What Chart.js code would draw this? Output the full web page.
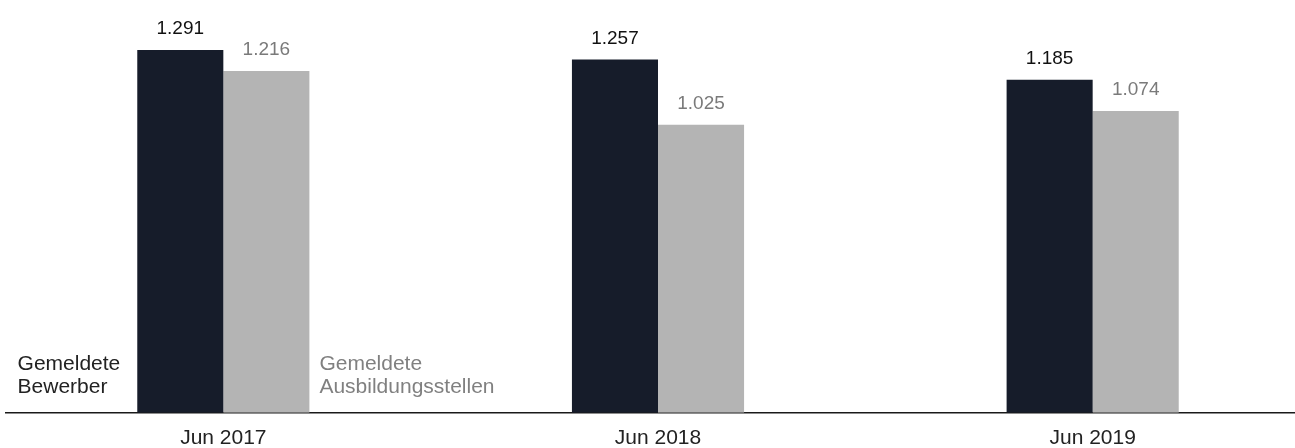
<!DOCTYPE html>
<html>
<head>
<meta charset="utf-8">
<script src="https://cdn.jsdelivr.net/npm/chart.js@4"></script>
<style>
  html, body { margin: 0; padding: 0; background: #fff; overflow: hidden; }
  #wrap { width: 1310px; height: 448px; }
</style>
</head>
<body>
<div id="wrap"><canvas id="chart"></canvas></div>
<script>
// Kategorien und Werte (Tausend)
const months = ['Jun 2017', 'Jun 2018', 'Jun 2019'];
const bewerber = [1291, 1257, 1185];
const stellen = [1216, 1025, 1074];
const seriesNames = [['Gemeldete', 'Bewerber'], ['Gemeldete', 'Ausbildungsstellen']];

const FONT = '"Liberation Sans", Arial, sans-serif';

// 1291 -> "1.291"
function fmt(v) {
    const s = String(v);
    return s.length > 3 ? s.slice(0, -3) + '.' + s.slice(-3) : s;
}

// Werte über den Balken
const valueLabels = {
    id: 'valueLabels',
    afterDatasetsDraw(chart) {
        const ctx = chart.ctx;
        const colors = ['#111', '#7a7a7a'];
        ctx.save();
        ctx.font = '19px ' + FONT;
        ctx.textAlign = 'center';
        ctx.textBaseline = 'alphabetic';
        chart.data.datasets.forEach((ds, i) => {
            ctx.fillStyle = colors[i];
            chart.getDatasetMeta(i).data.forEach((bar, j) => {
                ctx.fillText(fmt(ds.data[j]), bar.x, bar.y - 16);
            });
        });
        ctx.restore();
    }
};

// Reihenbeschriftung neben dem ersten Balkenpaar
const seriesLabels = {
    id: 'seriesLabels',
    afterDatasetsDraw(chart) {
        const ctx = chart.ctx;
        const bottom = chart.chartArea.bottom;
        ctx.save();
        ctx.font = '21px ' + FONT;
        ctx.textAlign = 'left';
        ctx.textBaseline = 'alphabetic';

        const b = chart.getDatasetMeta(0).data[0];
        const lines0 = seriesNames[0];
        const w0 = Math.max(...lines0.map(t => ctx.measureText(t).width));
        const x0 = b.x - b.width / 2 - 17 - w0;
        ctx.fillStyle = '#222';
        lines0.forEach((t, k) => ctx.fillText(t, x0, bottom - 43 + k * 23));

        const g = chart.getDatasetMeta(1).data[0];
        const x1 = g.x + g.width / 2 + 10;
        ctx.fillStyle = '#808080';
        seriesNames[1].forEach((t, k) => ctx.fillText(t, x1, bottom - 43 + k * 23));
        ctx.restore();
    }
};

new Chart(document.getElementById('chart'), {
    type: 'bar',
    data: {
        labels: months,
        datasets: [
            { label: seriesNames[0].join(' '), data: bewerber, backgroundColor: '#161c2a' },
            { label: seriesNames[1].join(' '), data: stellen, backgroundColor: '#b4b4b4' }
        ]
    },
    options: {
        responsive: true,
        maintainAspectRatio: false,
        animation: false,
        layout: { padding: { left: 6, right: 0, top: 0, bottom: -16 } },
        datasets: { bar: { barPercentage: 1, categoryPercentage: 0.396 } },
        plugins: {
            legend: { display: false },
            tooltip: { enabled: false }
        },
        scales: {
            x: {
                grid: { display: false, drawTicks: false },
                border: { display: true, color: '#1a1a1a', width: 1.5 },
                ticks: { color: '#222', font: { family: FONT, size: 21 }, padding: 13 }
            },
            y: {
                display: false,
                min: 0,
                max: 1469
            }
        }
    },
    plugins: [valueLabels, seriesLabels]
});
</script>
</body>
</html>
